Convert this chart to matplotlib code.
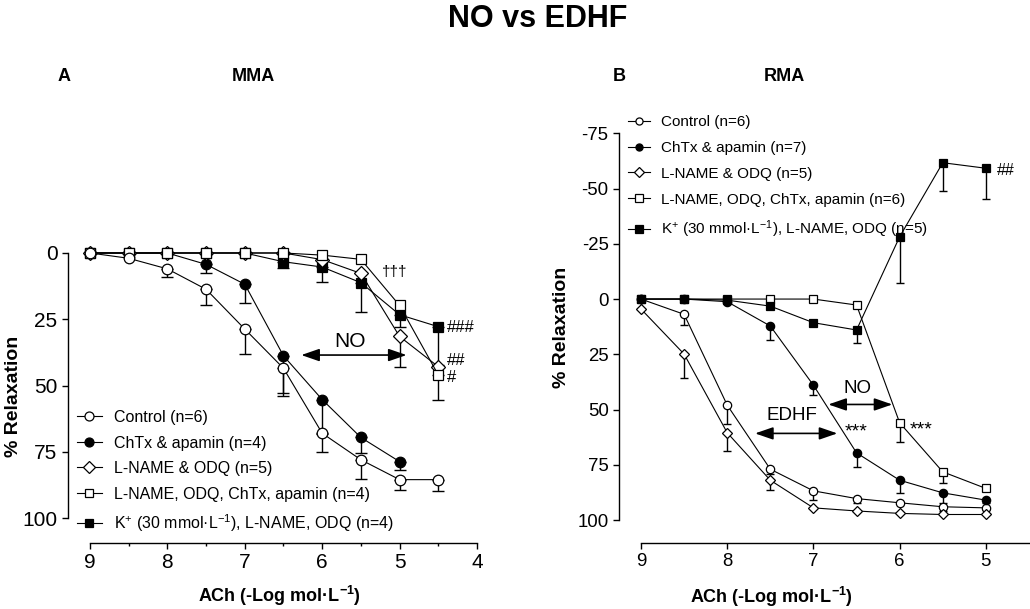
import numpy as np
import matplotlib
matplotlib.use('Agg')
import matplotlib.pyplot as plt
from matplotlib.ticker import FixedLocator

plt.rcParams['font.family'] = ['Liberation Sans', 'DejaVu Sans']
plt.rcParams['mathtext.fontset'] = 'custom'
plt.rcParams['mathtext.rm'] = 'Liberation Sans'
plt.rcParams['mathtext.it'] = 'Liberation Sans:italic'
plt.rcParams['mathtext.bf'] = 'Liberation Sans:bold'

# ---------------- data ----------------
labels_A = ['Control (n=6)', 'ChTx & apamin (n=4)', 'L-NAME & ODQ (n=5)',
            'L-NAME, ODQ, ChTx, apamin (n=4)',
            'K$^{+}$ (30 mmol·L$^{-1}$), L-NAME, ODQ (n=4)']
labels_B = ['Control (n=6)', 'ChTx & apamin (n=7)', 'L-NAME & ODQ (n=5)',
            'L-NAME, ODQ, ChTx, apamin (n=6)',
            'K$^{+}$ (30 mmol·L$^{-1}$), L-NAME, ODQ (n=5)']

# Panel A (MMA): -log[ACh]
x_A = [9, 8.5, 8, 7.5, 7, 6.5, 6, 5.5, 5, 4.5]
ctrl_A = [0, 2, 6, 13.7, 28.7, 43.5, 68, 78, 85.5, 85.5]
ctrl_A_err = [0, 0, 2.9, 6, 9.4, 10.3, 7.2, 7.2, 4, 4.4]
chtx_A = [0, 0, 0, 4.3, 11.8, 38.8, 55.3, 69.6, 78.7]
chtx_A_err = [0, 0, 0, 3.4, 6.9, 14, 13, 6, 3]
lnod_A = [0, 0, 0, 0, 0, 0, 2.5, 7.7, 31.5, 42.9]
lnod_A_err = [0, 0, 0, 0, 0, 0, 0, 0, 11.4, 0]
lnch_A = [0, 0, 0, 0, 0, 0, 0.8, 2.4, 19.8, 46]
lnch_A_err = [0, 0, 0, 0, 0, 0, 0, 0, 0, 9.4]
kpl_A = [0, 0, 0, 0, 0, 3.3, 5.3, 11.2, 23.3, 27.8]
kpl_A_err = [0, 0, 0, 0, 0, 2.2, 5.5, 10.9, 4.5, 14.5]

# Panel B (RMA)
x_B = [9, 8.5, 8, 7.5, 7, 6.5, 6, 5.5, 5]
ctrl_B = [0, 6.9, 48, 77, 86.8, 90.3, 92.2, 94, 94.5]
ctrl_B_err = [0, 4.9, 8.6, 2, 4.2, 2, 0, 2, 1]
chtx_B = [0, 0, 1.2, 12.2, 39, 69.6, 82, 87.7, 91]
chtx_B_err = [0, 0, 0, 6.4, 4.2, 6.3, 5.7, 4.5, 1.5]
lnod_B = [4.5, 24.9, 60.5, 82, 94.5, 95.9, 97, 97.5, 97.5]
lnod_B_err = [0, 10.6, 8.2, 4.2, 0, 0, 0, 0, 0]
lnch_B = [0, 0, 0, 0, 0, 2.7, 56, 78.2, 85.7]
lnch_B_err = [0, 0, 0, 0, 0, 0, 8.9, 5, 0]
kpl_B = [0, 0, 0.5, 3.2, 10.7, 14, -28.2, -61.7, -59.2]
kpl_B_err = [0, 0, 0, 0, 0, 5.8, 20.8, 12.7, 14]

xticks_A = [9, 8, 7, 6, 5, 4]
xticks_B = [9, 8, 7, 6, 5]
yticks_A = [0, 25, 50, 75, 100]
yticks_B = [-75, -50, -25, 0, 25, 50, 75, 100]

# ---------------- figure ----------------
W, H = 1030, 609
fig = plt.figure(figsize=(W / 100, H / 100), dpi=100)


def fx(px):
    return px / W


def fy(py):
    return 1 - py / H


def make_axes(left, right, top, bottom):
    return fig.add_axes([fx(left), fy(bottom), (right - left) / W, (bottom - top) / H])


styles = [
    dict(marker='o', mfc='white'),
    dict(marker='o', mfc='black'),
    dict(marker='D', mfc='white'),
    dict(marker='s', mfc='white'),
    dict(marker='s', mfc='black'),
]


def draw_series(ax, xs, ys, errs, style, ms, capsize, label, z):
    xs = np.asarray(xs[:len(ys)], float)
    ys = np.asarray(ys, float)
    errs = np.asarray(errs, float)
    m = errs > 0
    if m.any():
        ax.errorbar(xs[m], ys[m], yerr=[np.zeros(m.sum()), errs[m]], fmt='none',
                    ecolor='black', elinewidth=1.0, capsize=capsize, capthick=1.0,
                    zorder=2)
    ms_ = ms * (0.9 if style['marker'] == 'D' else 1.0)
    line, = ax.plot(xs, ys, color='black', lw=0.8, marker=style['marker'],
                    mfc=style['mfc'], mec='black', mew=0.9, ms=ms_, label=label,
                    zorder=z)
    return line


def style_axes(ax, xlim, ylim, xt, yt, xb, yb, fs_tick):
    ax.set_xlim(*xlim)
    ax.set_ylim(*ylim)
    for s in ['top', 'right']:
        ax.spines[s].set_visible(False)
    ax.spines['left'].set_bounds(*yb)
    ax.spines['bottom'].set_bounds(*xb)
    for s in ['left', 'bottom']:
        ax.spines[s].set_linewidth(1.0)
    ax.xaxis.set_major_locator(FixedLocator(xt))
    minors = np.arange(min(xb) + 0.5, max(xb) + 0.01, 1.0)
    ax.xaxis.set_minor_locator(FixedLocator(minors))
    ax.yaxis.set_major_locator(FixedLocator(yt))
    ax.set_xticklabels([str(v) for v in xt])
    ax.set_yticklabels([str(v) for v in yt])
    ax.tick_params(axis='both', which='major', direction='out', length=4,
                   width=1.0, labelsize=fs_tick, pad=3.5)
    ax.tick_params(axis='x', which='minor', direction='out', length=2.5, width=1.0)
    ax.patch.set_alpha(0)


arrow_kw = dict(arrowstyle='<|-|>,head_length=1.1,head_width=0.38',
                mutation_scale=10, lw=1.2, color='black', shrinkA=0, shrinkB=0)

# ---------------- Panel A ----------------
axA = make_axes(68, 477, 240, 543)
data_A = [(ctrl_A, ctrl_A_err), (chtx_A, chtx_A_err), (lnod_A, lnod_A_err),
          (lnch_A, lnch_A_err), (kpl_A, kpl_A_err)]
msA = [7.6, 7.6, 7.4, 7.0, 7.0]
zA = [7, 4, 5, 6, 3]   # open square above diamond and filled square in panel A
linesA = []
for i, ((ys, es), st) in enumerate(zip(data_A, styles)):
    linesA.append(draw_series(axA, x_A, ys, es, st, msA[i], 4.2, labels_A[i], zA[i]))
style_axes(axA, (9.284, 4.0), (109.4, -4.9), xticks_A, yticks_A, (9, 4), (0, 100), 15)

axA.annotate('', xy=(6.27, 38.5), xytext=(4.91, 38.5), arrowprops=arrow_kw)
axA.text(5.635, 35.3, 'NO', fontsize=15, ha='center', va='baseline')
axA.text(5.231, 8.7, '†††', fontsize=11, ha='left', va='baseline')
axA.text(4.39, 29.7, '###', fontsize=12, ha='left', va='baseline', clip_on=False)
axA.text(4.39, 42.2, '##', fontsize=12, ha='left', va='baseline', clip_on=False)
axA.text(4.39, 48.5, '#', fontsize=12, ha='left', va='baseline', clip_on=False)

legA = axA.legend(handles=linesA, loc='upper left',
                  bbox_to_anchor=(fx(77), fy(410)), bbox_transform=fig.transFigure,
                  frameon=False, fontsize=11.5, borderaxespad=0, borderpad=0,
                  handlelength=1.56, handletextpad=0.75, labelspacing=0.66,
                  markerscale=0.85)

# ---------------- Panel B ----------------
axB = make_axes(619, 1029, 115, 543)
data_B = [(ctrl_B, ctrl_B_err), (chtx_B, chtx_B_err), (lnod_B, lnod_B_err),
          (lnch_B, lnch_B_err), (kpl_B, kpl_B_err)]
msB = [6.0, 6.0, 6.2, 6.3, 6.3]
linesB = []
for i, ((ys, es), st) in enumerate(zip(data_B, styles)):
    linesB.append(draw_series(axB, x_B, ys, es, st, msB[i], 3.1, labels_B[i], 3 + i))
style_axes(axB, (9.255, 4.5), (110.4, -83.3), xticks_B, yticks_B, (9, 4.5), (-75, 100), 13.4)

axB.annotate('', xy=(6.827, 47.7), xytext=(6.085, 47.7), arrowprops=arrow_kw)
axB.annotate('', xy=(7.677, 60.8), xytext=(6.723, 60.8), arrowprops=arrow_kw)
axB.text(6.494, 42.3, 'NO', fontsize=13.5, ha='center', va='baseline')
axB.text(7.252, 54.8, 'EDHF', fontsize=13.5, ha='center', va='baseline')
axB.text(6.633, 62.3, '***', fontsize=14, ha='left', va='baseline')
axB.text(5.88, 61.2, '***', fontsize=14, ha='left', va='baseline')
axB.text(4.874, -56.2, '##', fontsize=11.5, ha='left', va='baseline', clip_on=False)

legB = axB.legend(handles=linesB, loc='upper left',
                  bbox_to_anchor=(fx(628), fy(115)), bbox_transform=fig.transFigure,
                  frameon=False, fontsize=11, borderaxespad=0, borderpad=0,
                  handlelength=1.45, handletextpad=0.72, labelspacing=0.78,
                  markerscale=0.85)

# ---------------- labels ----------------
fig.text(fx(538), fy(27), 'NO vs EDHF', fontsize=22, fontweight='bold',
         ha='center', va='baseline')
fig.text(fx(58), fy(81), 'A', fontsize=13, fontweight='bold', ha='left', va='baseline')
fig.text(fx(253), fy(81), 'MMA', fontsize=13, fontweight='bold', ha='center', va='baseline')
fig.text(fx(613), fy(81), 'B', fontsize=13, fontweight='bold', ha='left', va='baseline')
fig.text(fx(784), fy(81), 'RMA', fontsize=13, fontweight='bold', ha='center', va='baseline')

xlab = r'ACh (-Log mol·L$^{\mathbf{-1}}$)'
fig.text(fx(279), fy(602), xlab, fontsize=13, fontweight='bold', ha='center', va='baseline')
fig.text(fx(771), fy(603), xlab, fontsize=13, fontweight='bold', ha='center', va='baseline')
fig.text(fx(14), fy(396), '% Relaxation', fontsize=14, fontweight='bold',
         rotation=90, ha='center', va='center')
fig.text(fx(561), fy(327), '% Relaxation', fontsize=14, fontweight='bold',
         rotation=90, ha='center', va='center')

fig.savefig('out.png', dpi=100)
